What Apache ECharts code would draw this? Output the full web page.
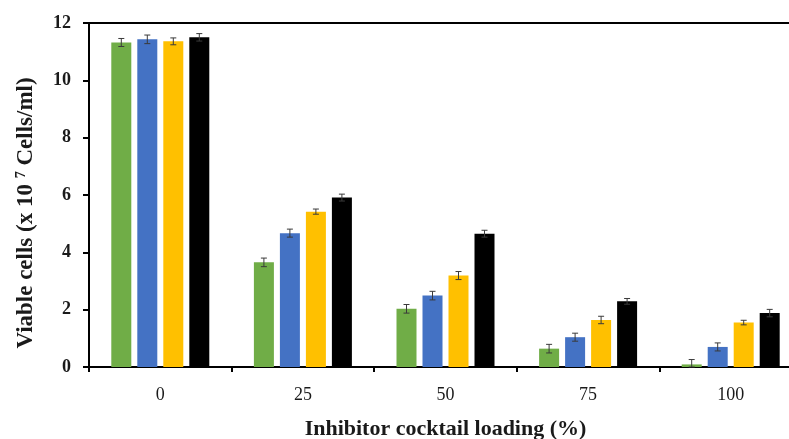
<!DOCTYPE html>
<html>
<head>
<meta charset="utf-8">
<script src="https://cdn.jsdelivr.net/npm/echarts@6/dist/echarts.min.js"></script>
<style>html,body{margin:0;padding:0;background:#fff}#c{width:789px;height:439px}</style>
</head>
<body>
<div id="c"></div>
<script>
const categories = ['0', '25', '50', '75', '100'];
const seriesNames = ['Series 1', 'Series 2', 'Series 3', 'Series 4'];
const greenVals = [11.32, 3.65, 2.03, 0.64, 0.09];
const blueVals = [11.43, 4.67, 2.49, 1.04, 0.70];
const yellowVals = [11.36, 5.42, 3.19, 1.64, 1.55];
const blackVals = [11.50, 5.91, 4.65, 2.29, 1.88];
const greenErr = [0.14, 0.15, 0.15, 0.15, 0.17];
const blueErr = [0.15, 0.14, 0.15, 0.14, 0.14];
const yellowErr = [0.12, 0.09, 0.14, 0.13, 0.08];
const blackErr = [0.13, 0.12, 0.12, 0.10, 0.13];
const yTicks = { min: 0, max: 12, interval: 2 };

const values = [greenVals, blueVals, yellowVals, blackVals];
const errs = [greenErr, blueErr, yellowErr, blackErr];
const colors = ['#70AD47', '#4472C4', '#FFC000', '#000000'];
const BAR_W = 20, GAP = 6;
const FONT = 'Liberation Serif';

const chart = echarts.init(document.getElementById('c'), null, { renderer: 'canvas' });

const barSeries = values.map((v, i) => ({
  name: seriesNames[i],
  type: 'bar',
  data: v,
  barWidth: BAR_W,
  barGap: (GAP / BAR_W * 100) + '%',
  itemStyle: { color: colors[i] },
  silent: true
}));

const errData = [];
values.forEach((v, s) => v.forEach((val, c) => errData.push([c, val, errs[s][c], s])));

const errSeries = {
  type: 'custom',
  silent: true,
  z: 5,
  data: errData,
  encode: { x: 0, y: 1 },
  renderItem: function (params, api) {
    const c = api.value(0), val = api.value(1), e = api.value(2), s = api.value(3);
    const off = (s - 1.5) * (BAR_W + GAP);
    const hi = api.coord([c, val + e]);
    const lo = api.coord([c, Math.max(0, val - e)]);
    const x = hi[0] + off;
    const cap = 3;
    const style = { stroke: '#3a3a3a', lineWidth: 1 };
    return {
      type: 'group',
      children: [
        { type: 'line', shape: { x1: x, y1: hi[1], x2: x, y2: lo[1] }, style },
        { type: 'line', shape: { x1: x - cap, y1: hi[1], x2: x + cap, y2: hi[1] }, style },
        { type: 'line', shape: { x1: x - cap, y1: lo[1], x2: x + cap, y2: lo[1] }, style }
      ]
    };
  }
};

chart.setOption({
  animation: false,
  backgroundColor: '#fff',
  grid: {
    left: 89, top: 23, right: -13, bottom: 72,
    outerBoundsMode: 'none', containLabel: false,
    show: true, borderColor: '#000', borderWidth: 2, backgroundColor: 'transparent'
  },
  xAxis: {
    type: 'category',
    data: categories,
    name: 'Inhibitor cocktail loading (%)',
    nameLocation: 'middle',
    nameGap: 51,
    nameTextStyle: { fontFamily: FONT, fontWeight: 'bold', fontSize: 22, color: '#1a1a1a' },
    axisLine: { lineStyle: { color: '#000', width: 2 } },
    axisTick: { show: true, length: 5, lineStyle: { color: '#000', width: 2 } },
    axisLabel: { fontFamily: FONT, fontSize: 18, color: '#1a1a1a', margin: 19 }
  },
  yAxis: {
    type: 'value',
    min: yTicks.min,
    max: yTicks.max,
    interval: yTicks.interval,
    name: 'Viable cells (x 10 {sup|7} Cells/ml)',
    nameLocation: 'middle',
    nameGap: 51,
    nameTextStyle: {
      fontFamily: FONT, fontWeight: 'bold', fontSize: 23, color: '#1a1a1a',
      padding: [0, 36, 0, 0],
      rich: { sup: { fontFamily: FONT, fontSize: 14, color: '#1a1a1a', padding: [0, 0, 10, 0] } }
    },
    splitLine: { show: false },
    axisLine: { show: true, lineStyle: { color: '#000', width: 2 } },
    axisTick: { show: true, length: 6, lineStyle: { color: '#000', width: 2 } },
    axisLabel: { fontFamily: FONT, fontWeight: 'bold', fontSize: 18, color: '#1a1a1a', margin: 18 }
  },
  series: [...barSeries, errSeries]
});
</script>
</body>
</html>
